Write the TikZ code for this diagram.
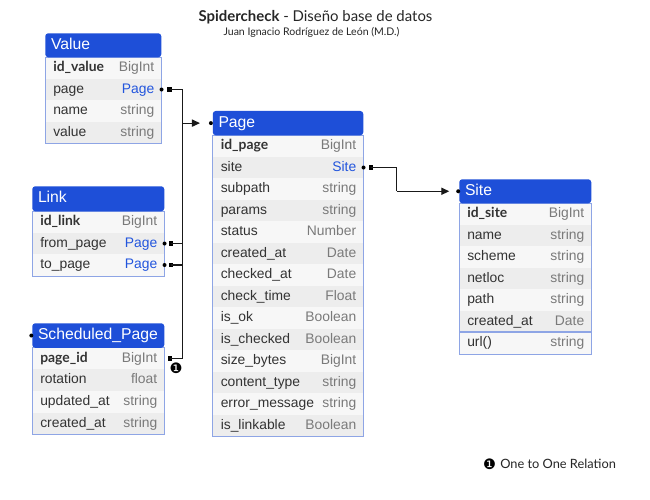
\documentclass[tikz,border=0pt]{standalone}
\usepackage{fontspec}
\setmainfont{Liberation Sans}
\newfontfamily\lato{Lato}
\newfontfamily\dejavu{DejaVu Sans}
\usetikzlibrary{arrows.meta}
\definecolor{hdr}{HTML}{1E4FD8}
\definecolor{bodyb}{HTML}{8EA5E5}
\definecolor{rowA}{HTML}{F7F7F7}
\definecolor{rowB}{HTML}{EDEDED}
\definecolor{fname}{HTML}{333333}
\definecolor{ftype}{HTML}{7A7A7A}
\definecolor{fk}{HTML}{2255DD}
\tikzset{
  rowbox/.style={draw=none, inner sep=0pt, minimum height=#1*0.75pt, anchor=north west},
  rowbox/.default=21.5,
  fieldtxt/.style={inner sep=0pt, text height=7.5pt, text depth=2pt, text=fname, font=\fontsize{10.4}{12}\selectfont},
  typetxt/.style={inner sep=0pt, text height=7.5pt, text depth=2pt, text=ftype, font=\fontsize{10.4}{12}\selectfont},
  hdrbox/.style={fill=hdr, draw=none, rounded corners=2.25pt, inner sep=0pt, anchor=north west},
  hdrtxt/.style={inner sep=0pt, text=white, text height=8.5pt, text depth=2.5pt, font=\fontsize{11.8}{13}\selectfont, anchor=west},
  bodyline/.style={draw=bodyb, line width=0.75pt},
  conn/.style={draw=black!90, line width=0.8pt},
  dotn/.style={circle, fill=black, inner sep=0pt, minimum size=3pt},
  sqn/.style={rectangle, fill=black, inner sep=0pt, minimum size=3.2pt},
  arr/.style={conn, -{Triangle[length=6pt,width=5.4pt]}},
}
\newcommand\keyf[1]{{\lato\bfseries #1}}
\newcommand\fkt[1]{\textcolor{fk}{#1}}
% name, x, ytop, width(px), field, type, fill, rowheight
\newcommand\dbrow[8]{%
  \node[rowbox=#8, minimum width=#4*0.75pt, fill=#7] (#1) at (#2,#3) {};
  \node[fieldtxt, anchor=west] (#1-n) at ([xshift=6pt]#1.west) {#5};
  \node[typetxt, anchor=east] (#1-t) at ([xshift=-5.25pt]#1.east) {#6};
}
\newcommand\dbhead[6]{% name, x, ytop, width, height, title
  \node[hdrbox, minimum width=#4*0.75pt, minimum height=#5*0.75pt] (#1) at (#2,#3) {};
  \node[hdrtxt] (#1-txt) at ([xshift=4.3pt]#1.west) {#6};
}
\begin{document}
\begin{tikzpicture}[x=0.75pt,y=-0.75pt]
\useasboundingbox[fill=white] (0,0) rectangle (650,500);

% Title
\node[inner sep=0pt, font=\lato\fontsize{11.2}{13}\selectfont, text=black!85] (title) at (315.5,17) {\textbf{Spidercheck} - Diseño base de datos};
\node[inner sep=0pt, font=\lato\fontsize{7.9}{9}\selectfont, text=black!85] (subtitle) at (311.5,32.5) {Juan Ignacio Rodríguez de León (M.D.)};

% ---------- Value ----------
\dbrow{v1}{45}{57}{116}{\keyf{id\_value}}{BigInt}{rowA}{21.5}
\dbrow{v2}{45}{78.5}{116}{page}{\fkt{Page}}{rowB}{21.5}
\dbrow{v3}{45}{100}{116}{name}{string}{rowA}{21.5}
\dbrow{v4}{45}{121.5}{116}{value}{string}{rowB}{21.5}
\draw[bodyline] (v1.north west) rectangle (v4.south east);
\dbhead{vh}{45}{33}{116}{24}{Value}

% ---------- Link ----------
\dbrow{l1}{32}{211}{132}{\keyf{id\_link}}{BigInt}{rowA}{21.5}
\dbrow{l2}{32}{232.5}{132}{from\_page}{\fkt{Page}}{rowB}{21.5}
\dbrow{l3}{32}{254}{132}{to\_page}{\fkt{Page}}{rowA}{21.5}
\draw[bodyline] (l1.north west) rectangle (l3.south east);
\dbhead{lh}{32}{186}{132}{25}{Link}

% ---------- Scheduled_Page ----------
\dbrow{s1}{32}{347.5}{132}{\keyf{page\_id}}{BigInt}{rowA}{21.7}
\dbrow{s2}{32}{369.2}{132}{rotation}{float}{rowB}{21.7}
\dbrow{s3}{32}{390.9}{132}{updated\_at}{string}{rowA}{21.7}
\dbrow{s4}{32}{412.6}{132}{created\_at}{string}{rowB}{21.7}
\draw[bodyline] (s1.north west) rectangle (s4.south east);
\dbhead{sh}{32}{323}{132}{24.5}{Scheduled\_Page}

% ---------- Page ----------
\dbrow{p1}{212.5}{135}{150.5}{\keyf{id\_page}}{BigInt}{rowA}{21.5}
\dbrow{p2}{212.5}{156.5}{150.5}{site}{\fkt{Site}}{rowB}{21.5}
\dbrow{p3}{212.5}{178}{150.5}{subpath}{string}{rowA}{21.5}
\dbrow{p4}{212.5}{199.5}{150.5}{params}{string}{rowB}{21.5}
\dbrow{p5}{212.5}{221}{150.5}{status}{Number}{rowA}{21.5}
\dbrow{p6}{212.5}{242.5}{150.5}{created\_at}{Date}{rowB}{21.5}
\dbrow{p7}{212.5}{264}{150.5}{checked\_at}{Date}{rowA}{21.5}
\dbrow{p8}{212.5}{285.5}{150.5}{check\_time}{Float}{rowB}{21.5}
\dbrow{p9}{212.5}{307}{150.5}{is\_ok}{Boolean}{rowA}{21.5}
\dbrow{p10}{212.5}{328.5}{150.5}{is\_checked}{Boolean}{rowB}{21.5}
\dbrow{p11}{212.5}{350}{150.5}{size\_bytes}{BigInt}{rowA}{21.5}
\dbrow{p12}{212.5}{371.5}{150.5}{content\_type}{string}{rowB}{21.5}
\dbrow{p13}{212.5}{393}{150.5}{error\_message}{string}{rowA}{21.5}
\dbrow{p14}{212.5}{414.5}{150.5}{is\_linkable}{Boolean}{rowB}{21.5}
\draw[bodyline] (p1.north west) rectangle (p14.south east);
\dbhead{ph}{212.5}{110.7}{150.5}{24.3}{Page}

% ---------- Site ----------
\dbrow{t1}{459}{203}{132}{\keyf{id\_site}}{BigInt}{rowA}{21.5}
\dbrow{t2}{459}{224.5}{132}{name}{string}{rowB}{21.5}
\dbrow{t3}{459}{246}{132}{scheme}{string}{rowA}{21.5}
\dbrow{t4}{459}{267.5}{132}{netloc}{string}{rowB}{21.5}
\dbrow{t5}{459}{289}{132}{path}{string}{rowA}{21.5}
\dbrow{t6}{459}{310.5}{132}{created\_at}{Date}{rowB}{21.5}
\dbrow{t7}{459}{332}{132}{url()}{string}{rowA}{21.5}
\draw[bodyline] (t1.north west) rectangle (t7.south east);
\draw[draw=bodyb, line width=1.1pt] (t7.north west) -- (t7.north east);
\dbhead{th}{459}{179}{132}{24}{Site}

% ---------- connectors ----------
\coordinate (busx) at (182.5,0);
\node[dotn] (vd) at (v2.east) {};
\node[sqn] (vs) at ([xshift=6pt]v2.east) {};
\node[dotn] (lfd) at (l2.east) {};
\node[sqn] (lfs) at ([xshift=5pt]l2.east) {};
\node[dotn] (ltd) at (l3.east) {};
\node[sqn] (lts) at ([xshift=5pt]l3.east) {};
\node[sqn] (ss) at ([xshift=4pt]s1.east) {};
\node[dotn] (pd) at ([xshift=-1.2pt]ph.west) {};
\node[dotn] (sd) at ([xshift=-0.5pt]sh.west) {};

\draw[conn] (vs.center) -- (vs.center -| busx) -- (ss.center -| busx) -- (ss.center);
\draw[conn] (lfs.center) -- (lfs.center -| busx);
\draw[conn] (lts.center) -- (lts.center -| busx);
\draw[arr, shorten >=6.5pt] (pd -| busx) -- (pd);

\node[dotn] (psd) at (p2.east) {};
\node[sqn] (pss) at ([xshift=5.8pt]p2.east) {};
\node[dotn] (td) at ([xshift=-0.6pt]th.west) {};
\coordinate (sitex) at (396.7,0);
\draw[conn] (pss.center) -- (pss.center -| sitex) -- (td -| sitex);
\draw[arr, shorten >=5pt] (td -| sitex) -- (td);

\node[inner sep=0pt, font=\dejavu\fontsize{10.8}{11}\selectfont] (one) at (176,368) {❶};

% legend
\node[inner sep=0pt, font=\dejavu\fontsize{10.8}{11}\selectfont] (legdot) at (489.5,464) {❶};
\node[inner sep=0pt, anchor=west, font=\lato\fontsize{9.6}{11}\selectfont, text=black!85] (legtxt) at (500,464) {One to One Relation};
\end{tikzpicture}
\end{document}
